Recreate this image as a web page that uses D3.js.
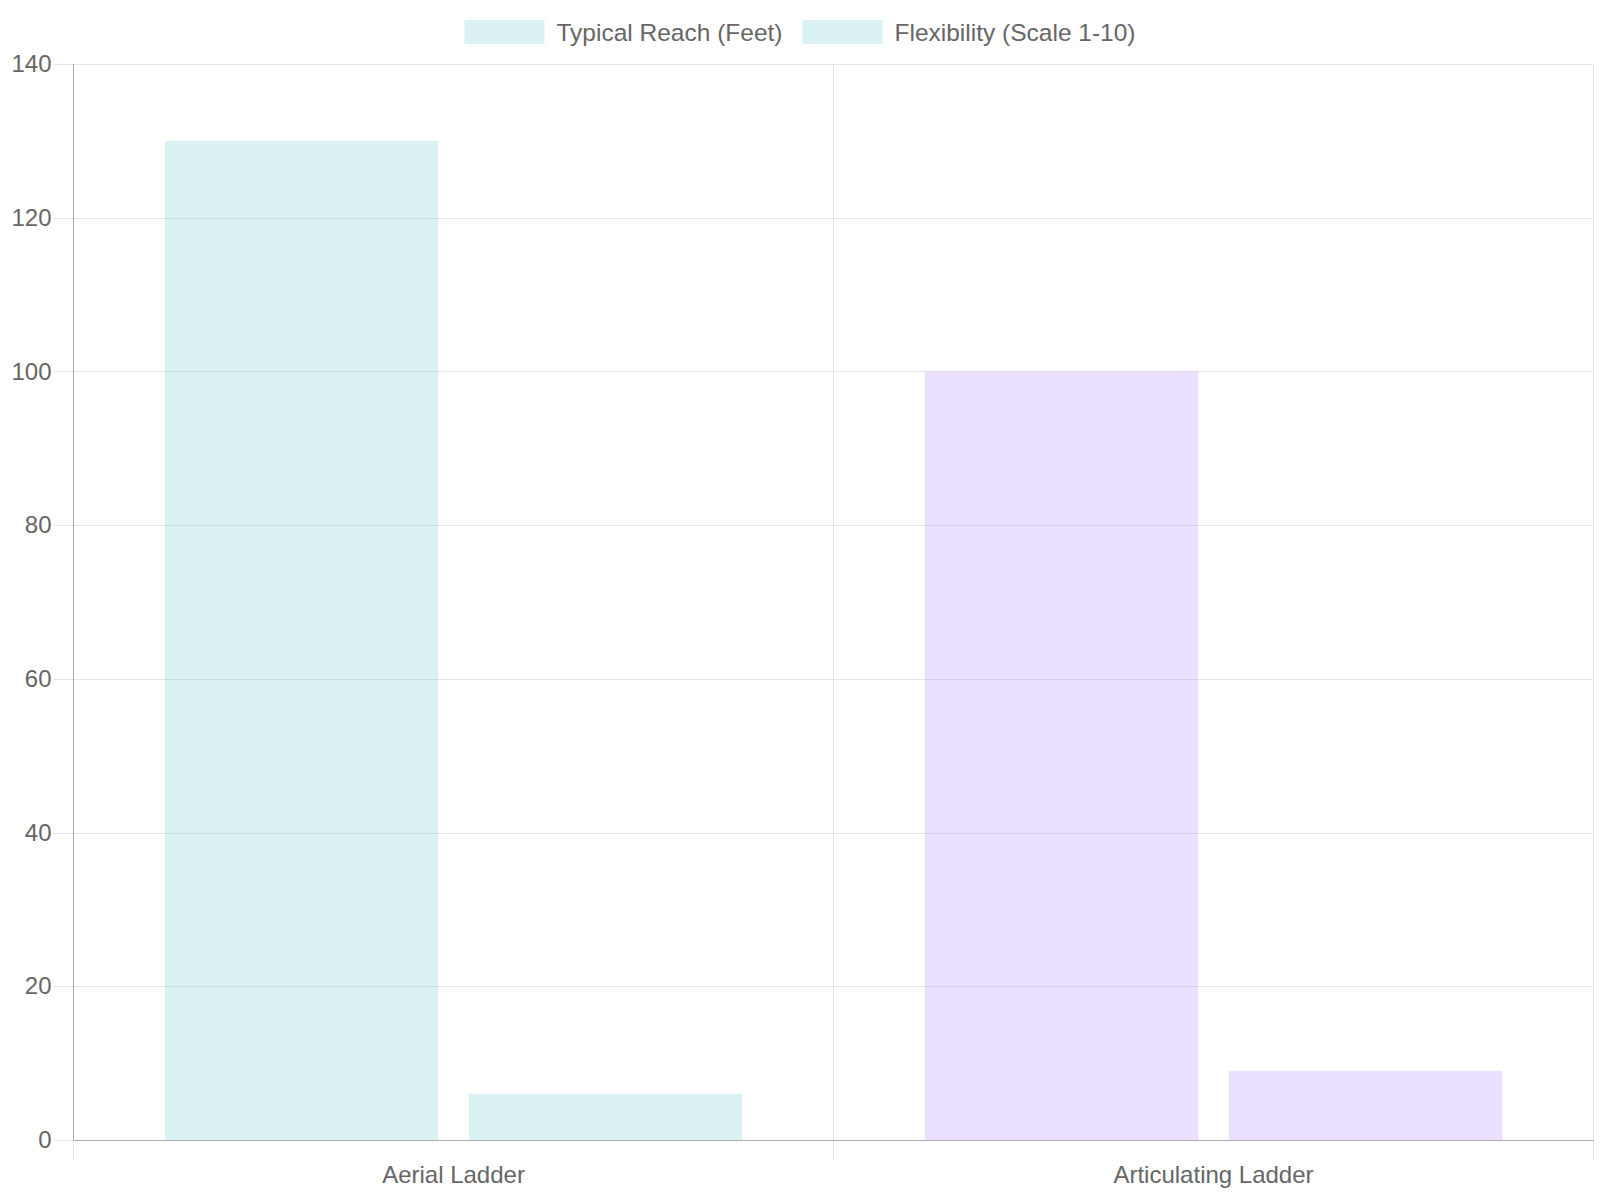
<!DOCTYPE html>
<html>
<head>
<meta charset="utf-8">
<script src="https://cdn.jsdelivr.net/npm/d3@7"></script>
<style>
  html, body { margin: 0; padding: 0; background: #fff; }
  text { font-family: "Liberation Sans", Arial, sans-serif; fill: #666; }
</style>
</head>
<body>
<div class="container"></div>
<script>
var categories = ["Aerial Ladder", "Articulating Ladder"];
var seriesNames = ["Typical Reach (Feet)", "Flexibility (Scale 1-10)"];
var reachValues = [130, 100];
var flexValues = [6, 9];
var yTickValues = [0, 20, 40, 60, 80, 100, 120, 140];
var barColors = ["rgba(75,192,192,0.2)", "rgba(153,102,255,0.2)"];

var SVG_WIDTH = 1600, SVG_HEIGHT = 1200;
var LEFT = 73.5, RIGHT = 1593.5, TOP = 64, BOTTOM = 1140;
var GRID = "#e5e5e5", AXIS = "#aaa";

document.addEventListener('DOMContentLoaded', function () {
    var svg = d3.select(".container").append("svg")
        .attr("width", SVG_WIDTH)
        .attr("height", SVG_HEIGHT);

    var x0 = d3.scaleBand().domain(categories).range([LEFT, RIGHT]);
    var bw = x0.bandwidth();
    // 0.8 of the category, 0.9 of each slot
    var x1 = d3.scaleBand().domain(seriesNames)
        .range([bw * 0.1, bw * 0.9])
        .paddingInner(0.1)
        .paddingOuter(0.05);
    var y = d3.scaleLinear().domain([0, 140]).range([BOTTOM, TOP]);

    // horizontal grid lines (with short tick marks on the left)
    svg.append("g").selectAll("line")
        .data(yTickValues)
        .enter().append("line")
        .attr("x1", LEFT - 20).attr("x2", RIGHT)
        .attr("y1", function (d) { return Math.round(y(d)) + 0.5; })
        .attr("y2", function (d) { return Math.round(y(d)) + 0.5; })
        .attr("stroke", GRID);

    // vertical grid lines at category boundaries
    var bounds = categories.map(function (c) { return x0(c); }).concat([RIGHT]);
    svg.append("g").selectAll("line")
        .data(bounds)
        .enter().append("line")
        .attr("x1", function (d) { return Math.floor(d) + 0.5; })
        .attr("x2", function (d) { return Math.floor(d) + 0.5; })
        .attr("y1", TOP).attr("y2", BOTTOM + 20)
        .attr("stroke", GRID);

    // axis lines
    svg.append("line")
        .attr("x1", Math.floor(LEFT) + 0.5).attr("x2", Math.floor(LEFT) + 0.5)
        .attr("y1", TOP).attr("y2", BOTTOM + 1)
        .attr("stroke", AXIS);
    svg.append("line")
        .attr("x1", LEFT).attr("x2", RIGHT)
        .attr("y1", BOTTOM + 0.5).attr("y2", BOTTOM + 0.5)
        .attr("stroke", AXIS);

    // bars
    var rows = categories.map(function (c, i) {
        return [
            { cat: c, series: seriesNames[0], value: reachValues[i], color: barColors[i] },
            { cat: c, series: seriesNames[1], value: flexValues[i], color: barColors[i] }
        ];
    });
    svg.append("g").selectAll("g")
        .data(rows)
        .enter().append("g")
        .attr("transform", function (d) { return "translate(" + x0(d[0].cat) + ",0)"; })
        .selectAll("rect")
        .data(function (d) { return d; })
        .enter().append("rect")
        .attr("x", function (d) { return x1(d.series); })
        .attr("width", x1.bandwidth())
        .attr("y", function (d) { return y(d.value); })
        .attr("height", function (d) { return y(0) - y(d.value); })
        .attr("fill", function (d) { return d.color; });

    // y axis labels
    var yAxis = svg.append("g")
        .attr("transform", "translate(" + LEFT + ",0)")
        .call(d3.axisLeft(y).tickValues(yTickValues).tickSize(0).tickPadding(22));
    yAxis.select(".domain").remove();
    yAxis.selectAll("text").style("font-size", "24px").style("font-family", null).attr("fill", null);

    // x axis labels
    var xAxis = svg.append("g")
        .attr("transform", "translate(0," + BOTTOM + ")")
        .call(d3.axisBottom(x0).tickSize(0).tickPadding(26));
    xAxis.select(".domain").remove();
    xAxis.selectAll("text").style("font-size", "24px").style("font-family", null).attr("fill", null);

    // legend
    var legend = svg.append("g");
    var items = legend.selectAll("g")
        .data(seriesNames)
        .enter().append("g");
    items.append("rect")
        .attr("width", 80).attr("height", 24)
        .attr("y", 20)
        .attr("fill", barColors[0]);
    items.append("text")
        .attr("x", 92).attr("y", 32)
        .attr("dy", "0.35em")
        .style("font-size", "24.5px")
        .text(function (d) { return d; });

    var widths = [];
    items.each(function () {
        widths.push(92 + d3.select(this).select("text").node().getComputedTextLength());
    });
    var total = d3.sum(widths) + 20 * (widths.length - 1);
    var pos = 800 - total / 2;
    items.attr("transform", function (d, i) {
        var t = "translate(" + pos + ",0)";
        pos += widths[i] + 20;
        return t;
    });
});
</script>
</body>
</html>
